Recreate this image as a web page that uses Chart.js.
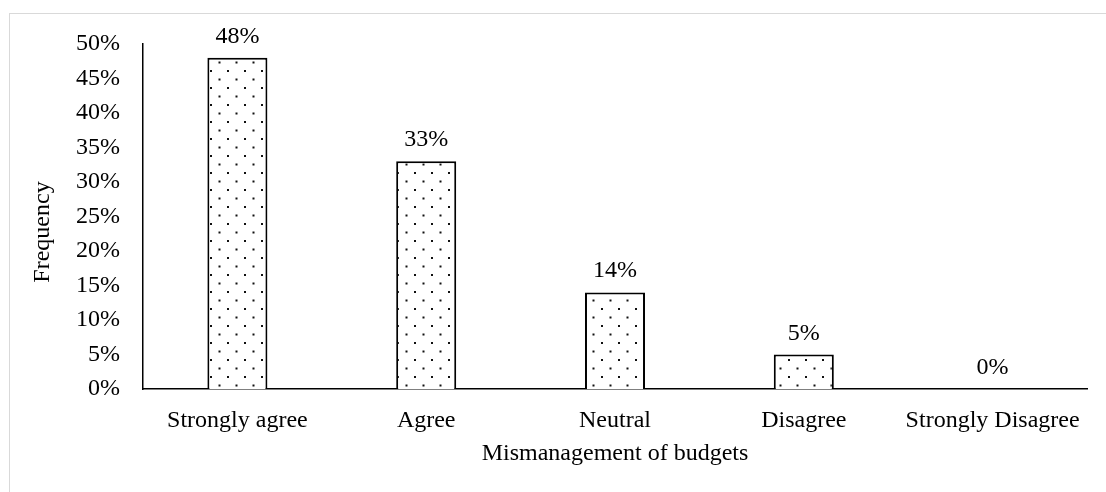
<!DOCTYPE html>
<html>
<head>
<meta charset="utf-8">
<script src="https://cdn.jsdelivr.net/npm/chart.js@4.4.1/dist/chart.umd.min.js"></script>
<style>
  html, body { margin: 0; padding: 0; background: #fff; overflow: hidden; }
  #wrap { position: relative; width: 1106px; height: 492px; }
  #frame { position: absolute; left: 9px; top: 13px; width: 1200px; height: 600px;
           border: 1.5px solid #d9d9d9; box-sizing: border-box; }
  #c { position: absolute; left: 0; top: 0; }
</style>
</head>
<body>
<div id="wrap">
  <div id="frame"></div>
  <canvas id="c" width="1106" height="492"></canvas>
</div>
<script>
var categories = ['Strongly agree', 'Agree', 'Neutral', 'Disagree', 'Strongly Disagree'];
var shares = [0.48, 0.33, 0.14, 0.05, 0];
var yTicks = [0, 0.05, 0.1, 0.15, 0.2, 0.25, 0.3, 0.35, 0.4, 0.45, 0.5];
var xTitle = 'Mismanagement of budgets';
var yTitle = 'Frequency';

var FONT = 'Liberation Serif, Times New Roman, serif';
var FONT_SIZE = 24;

// dotted fill like the Excel "5%" pattern
function dotPattern() {
    var tile = document.createElement('canvas');
    tile.width = 17;
    tile.height = 17;
    var t = tile.getContext('2d');
    t.fillStyle = '#fff';
    t.fillRect(0, 0, 17, 17);
    t.fillStyle = '#111';
    t.fillRect(6, 2, 2, 2);
    t.fillRect(14.5, 10.5, 2, 2);
    return document.getElementById('c').getContext('2d').createPattern(tile, 'repeat');
}

// percentage labels above bars + rotated y title
var labelPlugin = {
    id: 'barLabels',
    afterDatasetsDraw: function (chart) {
        var ctx = chart.ctx;
        var meta = chart.getDatasetMeta(0);
        ctx.save();
        ctx.font = FONT_SIZE + 'px ' + FONT;
        ctx.fillStyle = '#000';
        ctx.textAlign = 'center';
        ctx.textBaseline = 'alphabetic';
        meta.data.forEach(function (bar, i) {
            ctx.fillText(Math.round(shares[i] * 100) + '%', bar.x, bar.y - 15);
        });
        ctx.restore();

        ctx.save();
        ctx.font = FONT_SIZE + 'px ' + FONT;
        ctx.fillStyle = '#000';
        ctx.textAlign = 'center';
        ctx.textBaseline = 'middle';
        ctx.translate(43, 232);
        ctx.rotate(-Math.PI / 2);
        ctx.fillText(yTitle, 0, 0);
        ctx.restore();
    }
};

new Chart(document.getElementById('c'), {
    type: 'bar',
    data: {
        labels: categories,
        datasets: [{
            data: shares,
            backgroundColor: dotPattern(),
            borderColor: '#000',
            borderWidth: 2,
            barPercentage: 0.318,
            categoryPercentage: 1
        }]
    },
    options: {
        responsive: false,
        animation: false,
        events: [],
        layout: { padding: { top: 44, right: 19, left: 0, bottom: 0 } },
        plugins: {
            legend: { display: false },
            tooltip: { enabled: false }
        },
        scales: {
            x: {
                afterFit: function (scale) { scale.height = 103; },
                grid: { display: false, drawTicks: false },
                border: { display: true, color: '#000', width: 1.5 },
                ticks: {
                    color: '#000',
                    font: { family: FONT, size: FONT_SIZE },
                    padding: 17,
                    maxRotation: 0,
                    autoSkip: false
                },
                title: {
                    display: true,
                    text: xTitle,
                    color: '#000',
                    font: { family: FONT, size: FONT_SIZE },
                    padding: { top: 0, bottom: 24 }
                }
            },
            y: {
                min: 0,
                max: 0.5,
                afterFit: function (scale) { scale.width = 143; },
                afterBuildTicks: function (scale) {
                    scale.ticks = yTicks.map(function (v) { return { value: v }; });
                },
                grid: { display: false, drawTicks: false },
                border: { display: true, color: '#000', width: 1.5 },
                ticks: {
                    color: '#000',
                    font: { family: FONT, size: FONT_SIZE },
                    padding: 23,
                    callback: function (v) { return Math.round(v * 100) + '%'; }
                }
            }
        }
    },
    plugins: [labelPlugin]
});
</script>
</body>
</html>
